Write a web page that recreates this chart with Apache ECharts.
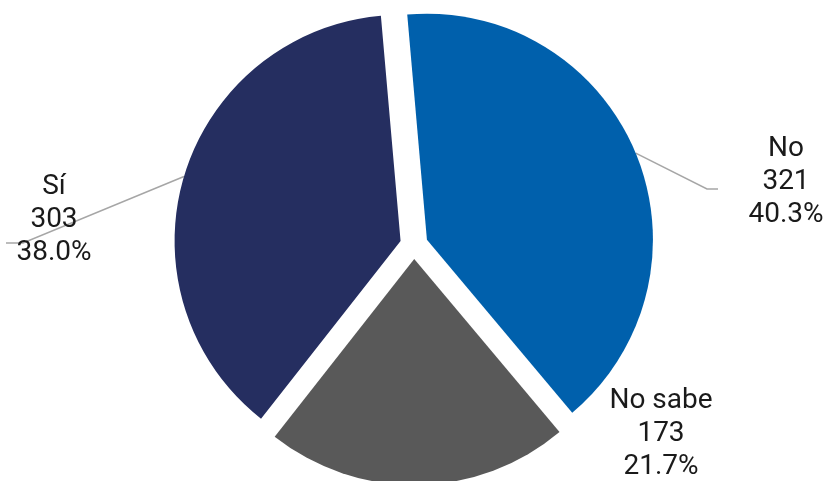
<!DOCTYPE html>
<html><head><meta charset="utf-8">
<script src="https://cdn.jsdelivr.net/npm/echarts@6/dist/echarts.min.js"></script>
<style>html,body{margin:0;padding:0;background:#fff}#c{width:825px;height:481px}</style>
</head><body><div id="c"></div>
<script>
const categories = ['No', 'No sabe', 'Sí'];
const counts = [321, 173, 303];
const colors = ['#0060ac', '#595959', '#252e60'];
// label placement (layout only)
const labelPos = [
  { x: 786, y: 182, bend: [707, 189], end: [718, 189] },
  { x: 661, y: 434 },
  { x: 54, y: 220, bend: [23, 243], end: [6, 243] }
];
const START_ANGLE = 95;
const OFFSET = 14;
const total = counts.reduce((a, b) => a + b, 0);

// translation applied to each exploded slice (its label and line move with it)
function sliceShift(i) {
  let cum = 0;
  for (let k = 0; k < i; k++) cum += counts[k];
  const mid = (START_ANGLE - (cum + counts[i] / 2) / total * 360) * Math.PI / 180;
  return [Math.cos(mid) * OFFSET, -Math.sin(mid) * OFFSET];
}

const chart = echarts.init(document.getElementById('c'), null, { renderer: 'canvas' });
chart.setOption({
  animation: false,
  backgroundColor: '#ffffff',
  series: [{
    type: 'pie',
    center: [414, 245],
    radius: 226,
    startAngle: START_ANGLE,
    clockwise: true,
    selectedMode: 'multiple',
    selectedOffset: OFFSET,
    emphasis: { disabled: true },
    label: {
      show: true,
      position: 'outside',
      formatter: function (p) {
        return '{t|' + p.name + '}\n{t|' + p.value + '}\n{t|' + (p.value / total * 100).toFixed(1) + '%}';
      },
      rich: {
        t: {
          width: 120,
          align: 'center',
          color: '#1a1a1a',
          fontFamily: 'Roboto',
          fontSize: 28,
          lineHeight: 33
        }
      }
    },
    labelLine: { show: true, lineStyle: { color: '#a6a6a6', width: 1.5 } },
    labelLayout: function (p) {
      const i = p.dataIndex, L = labelPos[i], r = p.labelRect;
      const s = sliceShift(i);
      const out = {
        dx: L.x - s[0] - (r.x + r.width / 2),
        dy: L.y - s[1] - (r.y + r.height / 2)
      };
      if (L.bend && p.labelLinePoints) {
        out.labelLinePoints = [
          p.labelLinePoints[0],
          [L.bend[0] - s[0], L.bend[1] - s[1]],
          [L.end[0] - s[0], L.end[1] - s[1]]
        ];
      }
      return out;
    },
    data: categories.map((c, i) => ({
      name: c,
      value: counts[i],
      selected: true,
      itemStyle: { color: colors[i] },
      labelLine: { show: !!labelPos[i].bend }
    }))
  }]
});
</script>
</body></html>
